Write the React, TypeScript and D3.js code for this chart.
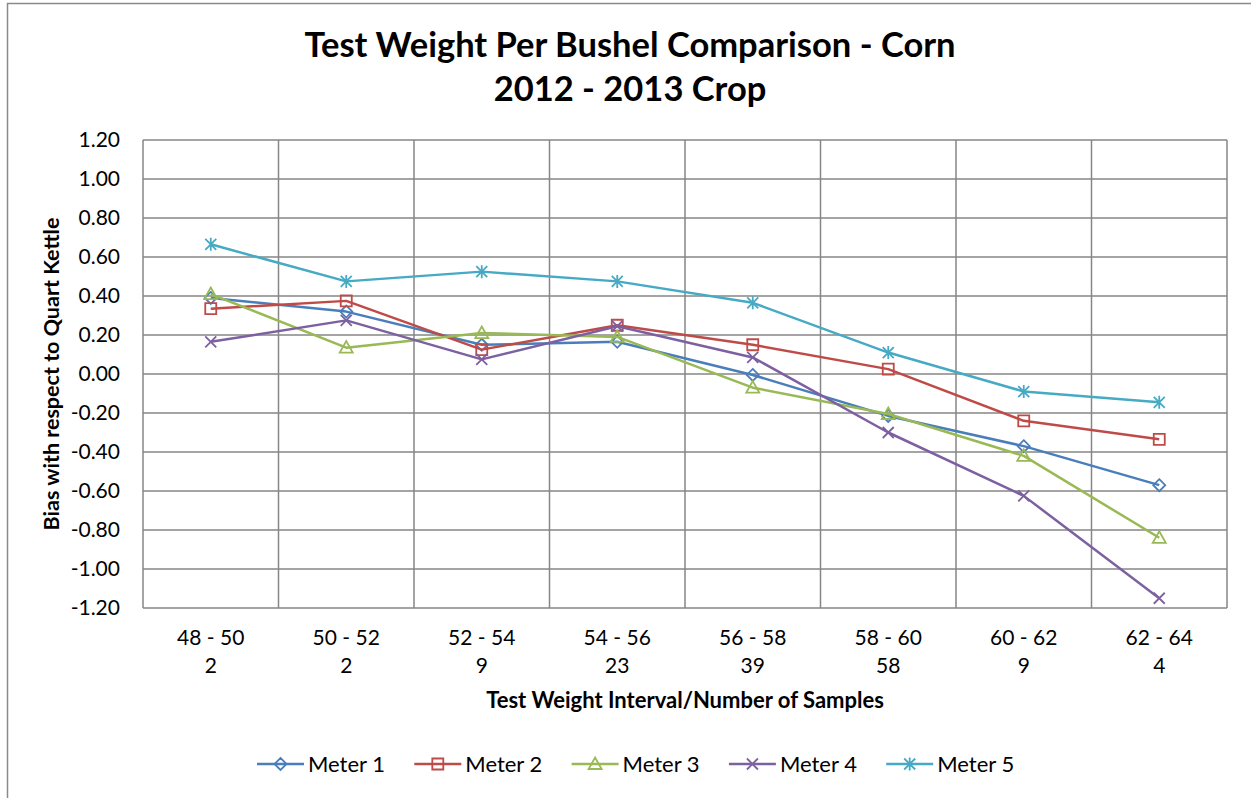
import * as d3 from 'd3';
import { useEffect, useRef } from 'react';

const categories = ['48 - 50', '50 - 52', '52 - 54', '54 - 56', '56 - 58', '58 - 60', '60 - 62', '62 - 64'];
const sampleCounts = ['2', '2', '9', '23', '39', '58', '9', '4'];
const yTicks = [-1.2, -1.0, -0.8, -0.6, -0.4, -0.2, 0, 0.2, 0.4, 0.6, 0.8, 1.0, 1.2];

const meterNames = ['Meter 1', 'Meter 2', 'Meter 3', 'Meter 4', 'Meter 5'];
const meter1 = [0.39, 0.32, 0.15, 0.165, -0.005, -0.215, -0.37, -0.57];
const meter2 = [0.335, 0.375, 0.125, 0.25, 0.15, 0.025, -0.24, -0.335];
const meter3 = [0.41, 0.135, 0.21, 0.19, -0.07, -0.205, -0.42, -0.84];
const meter4 = [0.165, 0.275, 0.075, 0.245, 0.085, -0.3, -0.625, -1.15];
const meter5 = [0.665, 0.475, 0.525, 0.475, 0.365, 0.11, -0.09, -0.145];

const colors = ['#4a7ebb', '#be4b48', '#98b954', '#7d60a0', '#46aac5'];
const markers = ['diamond', 'square', 'triangle', 'x', 'star'];

const FONT = 'Lato, "Open Sans", sans-serif';

const markerPath = (kind: string, cx: number, cy: number): string => {
    const p = d3.path();
    if (kind === 'diamond') {
        const r = 6;
        p.moveTo(cx, cy - r); p.lineTo(cx + r, cy); p.lineTo(cx, cy + r); p.lineTo(cx - r, cy); p.closePath();
    } else if (kind === 'square') {
        const r = 5.5;
        p.rect(cx - r, cy - r, 2 * r, 2 * r);
    } else if (kind === 'triangle') {
        p.moveTo(cx, cy - 6.5); p.lineTo(cx + 6.5, cy + 5); p.lineTo(cx - 6.5, cy + 5); p.closePath();
    } else if (kind === 'x') {
        const r = 5.5;
        p.moveTo(cx - r, cy - r); p.lineTo(cx + r, cy + r);
        p.moveTo(cx - r, cy + r); p.lineTo(cx + r, cy - r);
    } else {
        const r = 5.5;
        p.moveTo(cx - r, cy - r); p.lineTo(cx + r, cy + r);
        p.moveTo(cx - r, cy + r); p.lineTo(cx + r, cy - r);
        p.moveTo(cx, cy - r - 1); p.lineTo(cx, cy + r + 1);
    }
    return p.toString();
};

const App = () => {
    const ref = useRef<SVGSVGElement | null>(null);

    useEffect(() => {
        if (!ref.current) return;
        const svg = d3.select(ref.current);
        svg.selectAll('*').remove();

        const W = 1251, H = 798;
        const left = 143, right = 1227, top = 140, bottom = 608;
        const series = [meter1, meter2, meter3, meter4, meter5];

        svg.append('rect').attr('width', W).attr('height', H).attr('fill', '#fff');
        // outer chart border
        svg.append('rect')
            .attr('x', 7.5).attr('y', 3.5)
            .attr('width', W + 10).attr('height', H + 10)
            .attr('fill', 'none').attr('stroke', '#8a8a8a').attr('stroke-width', 1.5);

        const x = d3.scaleBand().domain(categories).range([left, right]);
        const y = d3.scaleLinear().domain([-1.2, 1.2]).range([bottom, top]);
        const cx = (c: string) => x(c)! + x.bandwidth() / 2;

        // title
        const title = svg.append('text')
            .attr('text-anchor', 'middle')
            .attr('font-family', FONT).attr('font-weight', 'bold').attr('font-size', 34.5)
            .attr('fill', '#000');
        title.append('tspan').attr('x', 630).attr('y', 57).text('Test Weight Per Bushel Comparison - Corn');
        title.append('tspan').attr('x', 630).attr('y', 101).text('2012 - 2013 Crop');

        // gridlines
        svg.append('g').selectAll('line.h')
            .data(yTicks).enter().append('line')
            .attr('x1', left).attr('x2', right)
            .attr('y1', d => y(d)).attr('y2', d => y(d))
            .attr('stroke', '#868686').attr('stroke-width', 1.5);
        const bounds = categories.map(c => x(c)!).concat([right]);
        svg.append('g').selectAll('line.v')
            .data(bounds).enter().append('line')
            .attr('x1', d => d).attr('x2', d => d)
            .attr('y1', top).attr('y2', bottom)
            .attr('stroke', '#868686').attr('stroke-width', 1.5);

        // y axis labels
        const yAxis = svg.append('g')
            .attr('transform', `translate(${left},0)`)
            .call(d3.axisLeft(y).tickValues(yTicks).tickSize(0).tickPadding(23).tickFormat(d => (+d).toFixed(2)));
        yAxis.select('.domain').remove();
        yAxis.selectAll('text')
            .attr('font-family', FONT).attr('font-size', 21).attr('fill', '#000');

        // x axis labels (two lines)
        const xAxis = svg.append('g')
            .attr('transform', `translate(0,${bottom})`)
            .call(d3.axisBottom(x).tickSize(0).tickPadding(0));
        xAxis.select('.domain').remove();
        xAxis.selectAll<SVGTextElement, string>('text')
            .attr('font-family', FONT).attr('font-size', 21).attr('fill', '#000')
            .attr('dy', null)
            .text(null)
            .each(function (d, i) {
                const t = d3.select(this);
                t.append('tspan').attr('x', 0).attr('y', 37).text(d);
                t.append('tspan').attr('x', 0).attr('y', 65).text(sampleCounts[i]);
            });

        // axis titles
        svg.append('text')
            .attr('x', (left + right) / 2).attr('y', 708)
            .attr('text-anchor', 'middle')
            .attr('font-family', FONT).attr('font-weight', 'bold').attr('font-size', 22)
            .text('Test Weight Interval/Number of Samples');
        svg.append('text')
            .attr('transform', `translate(59,${(top + bottom) / 2}) rotate(-90)`)
            .attr('text-anchor', 'middle')
            .attr('font-family', FONT).attr('font-weight', 'bold').attr('font-size', 21.5)
            .text('Bias with respect to Quart Kettle');

        // series lines + markers
        const line = d3.line<number>().x((_d, i) => cx(categories[i])).y(d => y(d));
        series.forEach((vals, s) => {
            const g = svg.append('g');
            g.append('path')
                .datum(vals)
                .attr('d', line)
                .attr('fill', 'none').attr('stroke', colors[s]).attr('stroke-width', 2.5)
                .attr('stroke-linejoin', 'round');
            g.selectAll('path.m')
                .data(vals).enter().append('path')
                .attr('d', (d, i) => markerPath(markers[s], cx(categories[i]), y(d)))
                .attr('fill', 'none').attr('stroke', colors[s]).attr('stroke-width', 1.8);
        });

        // legend
        const legend = svg.append('g');
        meterNames.forEach((name, s) => {
            const lx = 257 + s * 157.3;
            const ly = 764;
            legend.append('line')
                .attr('x1', lx).attr('x2', lx + 47).attr('y1', ly).attr('y2', ly)
                .attr('stroke', colors[s]).attr('stroke-width', 2.5);
            legend.append('path')
                .attr('d', markerPath(markers[s], lx + 23.5, ly))
                .attr('fill', 'none').attr('stroke', colors[s]).attr('stroke-width', 1.8);
            legend.append('text')
                .attr('x', lx + 51).attr('y', ly + 8)
                .attr('font-family', FONT).attr('font-size', 22).attr('fill', '#000')
                .text(name);
        });
    }, []);

    return (
        <svg ref={ref} width={1251} height={798} style={{ position: 'absolute', left: 0, top: 0 }} />
    );
};

export default App;
